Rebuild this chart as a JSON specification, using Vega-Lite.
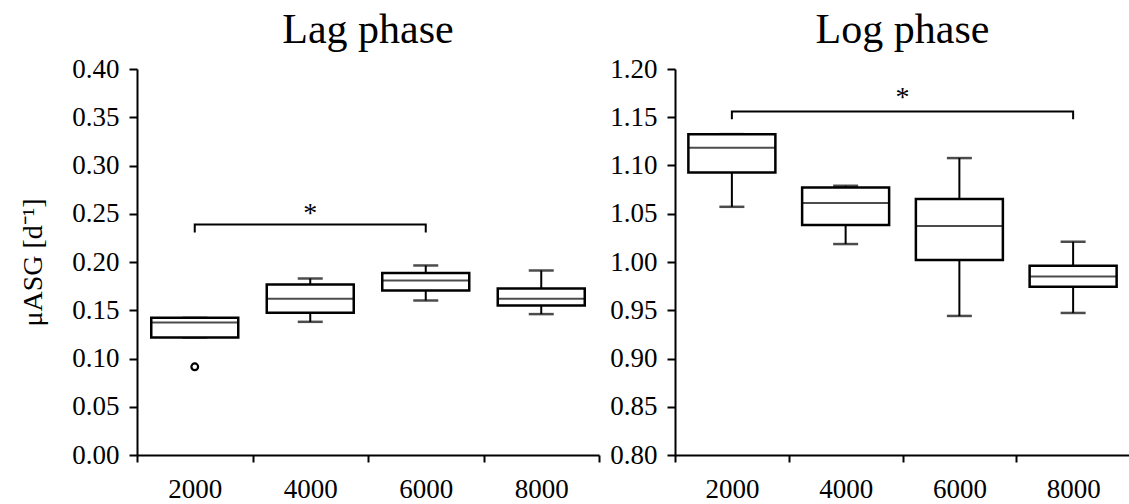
{
  "$schema": "https://vega.github.io/schema/vega-lite/v6.json",
  "padding": {"left": 19, "top": 9, "right": 0, "bottom": 0},
  "background": "white",
  "config": {
    "view": {"stroke": null},
    "font": "Liberation Serif",
    "axis": {"domainColor": "black", "domainWidth": 2, "tickColor": "black", "tickWidth": 2, "labelColor": "black", "labelFont": "Liberation Serif", "labelFontSize": 27, "titleFont": "Liberation Serif", "titleFontWeight": "normal", "titleColor": "black", "grid": false},
    "title": {"font": "Liberation Serif", "fontSize": 42, "fontWeight": "normal", "color": "black", "anchor": "middle", "frame": "group", "baseline": "alphabetic", "offset": 3}
  },
  "datasets": {
    "lag": [
      {"conc": "2000", "min": 0.1218, "q1": 0.1218, "median": 0.1374, "q3": 0.1421, "max": 0.1421},
      {"conc": "4000", "min": 0.138, "q1": 0.1473, "median": 0.1618, "q3": 0.1767, "max": 0.1829},
      {"conc": "6000", "min": 0.1601, "q1": 0.1705, "median": 0.1808, "q3": 0.1887, "max": 0.1964},
      {"conc": "8000", "min": 0.146, "q1": 0.155, "median": 0.1618, "q3": 0.1726, "max": 0.1912}
    ],
    "log": [
      {"conc": "2000", "min": 1.0572, "q1": 1.0928, "median": 1.1183, "q3": 1.1325, "max": 1.1325},
      {"conc": "4000", "min": 1.0186, "q1": 1.0383, "median": 1.0611, "q3": 1.0772, "max": 1.079},
      {"conc": "6000", "min": 0.9441, "q1": 1.0021, "median": 1.0373, "q3": 1.0652, "max": 1.1077},
      {"conc": "8000", "min": 0.9472, "q1": 0.9744, "median": 0.9851, "q3": 0.9962, "max": 1.021}
    ],
    "lagOut": [{"conc": "2000", "value": 0.0914}],
    "lagBracket": [
      {"conc": "2000", "y": 0.2305, "ord": 1},
      {"conc": "2000", "y": 0.2388, "ord": 2},
      {"conc": "6000", "y": 0.2388, "ord": 3},
      {"conc": "6000", "y": 0.2305, "ord": 4}
    ],
    "logBracket": [
      {"conc": "2000", "y": 1.148, "ord": 1},
      {"conc": "2000", "y": 1.1559, "ord": 2},
      {"conc": "8000", "y": 1.1559, "ord": 3},
      {"conc": "8000", "y": 1.148, "ord": 4}
    ],
    "lagStar": [{"conc": "4000", "y": 0.2495, "label": "*"}],
    "logStar": [{"conc": "4000", "y": 1.170, "label": "*"}]
  },
  "spacing": 9,
  "hconcat": [
    {
      "width": 462,
      "height": 386,
      "title": {"text": "Lag phase"},
      "layer": [
        {
          "data": {"name": "lag"},
          "mark": {"type": "rule", "color": "black", "strokeWidth": 2},
          "encoding": {
            "x": {"field": "conc", "type": "ordinal", "scale": {"domain": ["2000", "4000", "6000", "8000"], "paddingInner": 0, "paddingOuter": 0},
                  "axis": {"title": null, "labelAngle": 0, "tickBand": "extent", "tickSize": 7, "labelBaseline": "alphabetic", "labelPadding": 35, "labelFont": "Liberation Serif", "labelFontSize": 27}},
            "y": {"field": "min", "type": "quantitative", "scale": {"domain": [0, 0.4], "nice": false, "zero": false},
                  "axis": {"values": [0, 0.05, 0.1, 0.15, 0.2, 0.25, 0.3, 0.35, 0.4], "format": ".2f", "tickSize": 8, "labelPadding": 10, "labelFont": "Liberation Serif", "labelFontSize": 27, "title": "μASG [d⁻¹]", "titleFont": "Liberation Serif", "titleFontSize": 28, "titlePadding": 24}},
            "y2": {"field": "max"}
          }
        },
        {
          "data": {"name": "lag"},
          "mark": {"type": "tick", "color": "black", "size": 25, "thickness": 2.5},
          "encoding": {"x": {"field": "conc", "type": "ordinal"}, "y": {"field": "min", "type": "quantitative"}}
        },
        {
          "data": {"name": "lag"},
          "mark": {"type": "tick", "color": "black", "size": 25, "thickness": 2.5},
          "encoding": {"x": {"field": "conc", "type": "ordinal"}, "y": {"field": "max", "type": "quantitative"}}
        },
        {
          "data": {"name": "lag"},
          "mark": {"type": "bar", "fill": "white", "stroke": "black", "strokeWidth": 2.5, "size": 87},
          "encoding": {"x": {"field": "conc", "type": "ordinal"}, "y": {"field": "q1", "type": "quantitative"}, "y2": {"field": "q3"}}
        },
        {
          "data": {"name": "lag"},
          "mark": {"type": "tick", "color": "black", "size": 87, "thickness": 2},
          "encoding": {"x": {"field": "conc", "type": "ordinal"}, "y": {"field": "median", "type": "quantitative"}}
        },
        {
          "data": {"name": "lagOut"},
          "mark": {"type": "point", "shape": "circle", "filled": false, "stroke": "black", "strokeWidth": 2.2, "size": 45, "opacity": 1},
          "encoding": {"x": {"field": "conc", "type": "ordinal", "bandPosition": 0.5}, "y": {"field": "value", "type": "quantitative"}}
        },
        {
          "data": {"name": "lagBracket"},
          "mark": {"type": "line", "color": "black", "strokeWidth": 2},
          "encoding": {"x": {"field": "conc", "type": "ordinal", "bandPosition": 0.5}, "y": {"field": "y", "type": "quantitative"}, "order": {"field": "ord", "type": "quantitative"}}
        },
        {
          "data": {"name": "lagStar"},
          "mark": {"type": "text", "font": "Liberation Serif", "fontSize": 28, "color": "black", "baseline": "middle", "align": "center"},
          "encoding": {"x": {"field": "conc", "type": "ordinal", "bandPosition": 0.5}, "y": {"field": "y", "type": "quantitative"}, "text": {"field": "label"}}
        }
      ]
    },
    {
      "width": 455,
      "height": 386,
      "title": {"text": "Log phase"},
      "layer": [
        {
          "data": {"name": "log"},
          "mark": {"type": "rule", "color": "black", "strokeWidth": 2},
          "encoding": {
            "x": {"field": "conc", "type": "ordinal", "scale": {"domain": ["2000", "4000", "6000", "8000"], "paddingInner": 0, "paddingOuter": 0},
                  "axis": {"title": null, "labelAngle": 0, "tickBand": "extent", "tickSize": 7, "labelBaseline": "alphabetic", "labelPadding": 35, "labelFont": "Liberation Serif", "labelFontSize": 27}},
            "y": {"field": "min", "type": "quantitative", "scale": {"domain": [0.8, 1.2], "nice": false, "zero": false},
                  "axis": {"values": [0.8, 0.85, 0.9, 0.95, 1.0, 1.05, 1.1, 1.15, 1.2], "format": ".2f", "tickSize": 8, "labelPadding": 10, "labelFont": "Liberation Serif", "labelFontSize": 27, "title": null}},
            "y2": {"field": "max"}
          }
        },
        {
          "data": {"name": "log"},
          "mark": {"type": "tick", "color": "black", "size": 25, "thickness": 2.5},
          "encoding": {"x": {"field": "conc", "type": "ordinal"}, "y": {"field": "min", "type": "quantitative"}}
        },
        {
          "data": {"name": "log"},
          "mark": {"type": "tick", "color": "black", "size": 25, "thickness": 2.5},
          "encoding": {"x": {"field": "conc", "type": "ordinal"}, "y": {"field": "max", "type": "quantitative"}}
        },
        {
          "data": {"name": "log"},
          "mark": {"type": "bar", "fill": "white", "stroke": "black", "strokeWidth": 2.5, "size": 87},
          "encoding": {"x": {"field": "conc", "type": "ordinal"}, "y": {"field": "q1", "type": "quantitative"}, "y2": {"field": "q3"}}
        },
        {
          "data": {"name": "log"},
          "mark": {"type": "tick", "color": "black", "size": 87, "thickness": 2},
          "encoding": {"x": {"field": "conc", "type": "ordinal"}, "y": {"field": "median", "type": "quantitative"}}
        },
        {
          "data": {"name": "logBracket"},
          "mark": {"type": "line", "color": "black", "strokeWidth": 2},
          "encoding": {"x": {"field": "conc", "type": "ordinal", "bandPosition": 0.5}, "y": {"field": "y", "type": "quantitative"}, "order": {"field": "ord", "type": "quantitative"}}
        },
        {
          "data": {"name": "logStar"},
          "mark": {"type": "text", "font": "Liberation Serif", "fontSize": 28, "color": "black", "baseline": "middle", "align": "center"},
          "encoding": {"x": {"field": "conc", "type": "ordinal", "bandPosition": 1}, "y": {"field": "y", "type": "quantitative"}, "text": {"field": "label"}}
        }
      ]
    }
  ]
}
